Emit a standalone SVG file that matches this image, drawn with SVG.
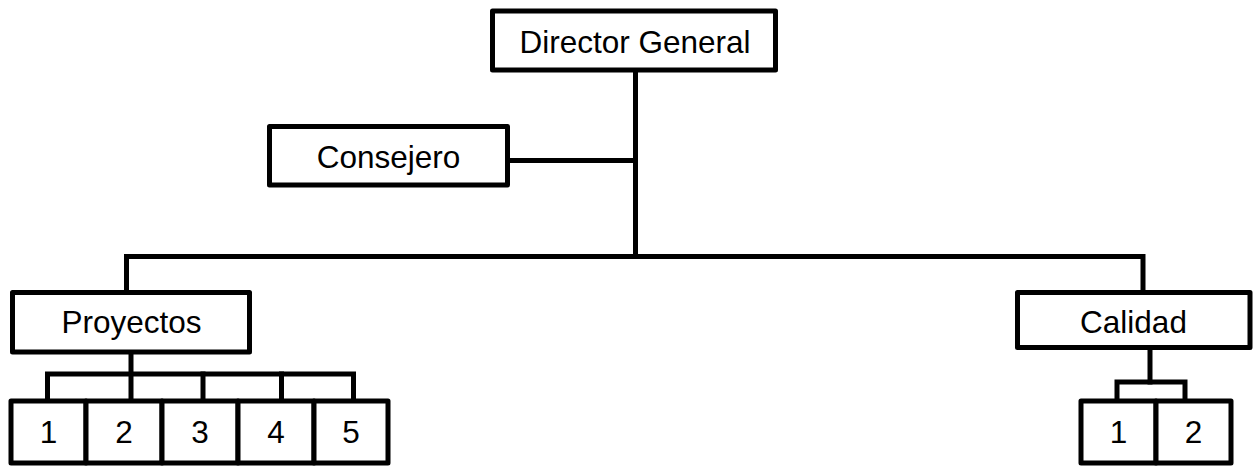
<svg xmlns="http://www.w3.org/2000/svg" width="1253" height="466" viewBox="0 0 1253 466">
  <style>
    .box { fill: #ffffff; stroke: #000000; stroke-width: 5; stroke-linejoin: round; }
    .lbl { font-family: "Liberation Sans", Arial, sans-serif; font-size: 31.5px; fill: #000000; text-anchor: middle; }
    .wire { fill: none; stroke: #000000; stroke-width: 5; stroke-linejoin: miter; stroke-linecap: square; }
  </style>
  <rect width="1253" height="466" fill="#ffffff"/>

  <!-- connectors -->
  <g id="connectors">
    <path class="wire" d="M635.5,70 V256.5"/>
    <path class="wire" d="M507.5,160.5 H635.5"/>
    <path class="wire" d="M126.5,292.5 V256.5 H1143 V292.5"/>
    <path class="wire" d="M131,352 V401"/>
    <path class="wire" d="M47.5,401 V374 H353.5 V401"/>
    <path class="wire" d="M203,374 V401"/>
    <path class="wire" d="M281.5,374 V401"/>
    <path class="wire" d="M1150,347.5 V382"/>
    <path class="wire" d="M1117,401 V382 H1185 V401"/>
  </g>

  <g id="director">
    <rect class="box" x="492.5" y="11" width="283" height="59"/>
    <text class="lbl" x="635" y="53">Director General</text>
  </g>
  <g id="consejero">
    <rect class="box" x="269.5" y="126.5" width="238" height="58.5"/>
    <text class="lbl" x="388.5" y="168">Consejero</text>
  </g>
  <g id="proyectos">
    <rect class="box" x="12.5" y="292.5" width="237" height="59.5"/>
    <text class="lbl" x="131.5" y="333">Proyectos</text>
  </g>
  <g id="calidad">
    <rect class="box" x="1017.5" y="292.5" width="232.5" height="55"/>
    <text class="lbl" x="1133.5" y="333">Calidad</text>
  </g>

  <g id="proyectos-1">
    <rect class="box" x="11" y="401" width="75" height="62"/>
    <text class="lbl" x="48.5" y="443">1</text>
  </g>
  <g id="proyectos-2">
    <rect class="box" x="86" y="401" width="76" height="62"/>
    <text class="lbl" x="124" y="443">2</text>
  </g>
  <g id="proyectos-3">
    <rect class="box" x="162" y="401" width="76" height="62"/>
    <text class="lbl" x="200" y="443">3</text>
  </g>
  <g id="proyectos-4">
    <rect class="box" x="238" y="401" width="76" height="62"/>
    <text class="lbl" x="276" y="443">4</text>
  </g>
  <g id="proyectos-5">
    <rect class="box" x="314" y="401" width="74" height="62"/>
    <text class="lbl" x="351" y="443">5</text>
  </g>

  <g id="calidad-1">
    <rect class="box" x="1081" y="401" width="75" height="62"/>
    <text class="lbl" x="1118.5" y="443">1</text>
  </g>
  <g id="calidad-2">
    <rect class="box" x="1156" y="401" width="75" height="62"/>
    <text class="lbl" x="1193.5" y="443">2</text>
  </g>
</svg>
